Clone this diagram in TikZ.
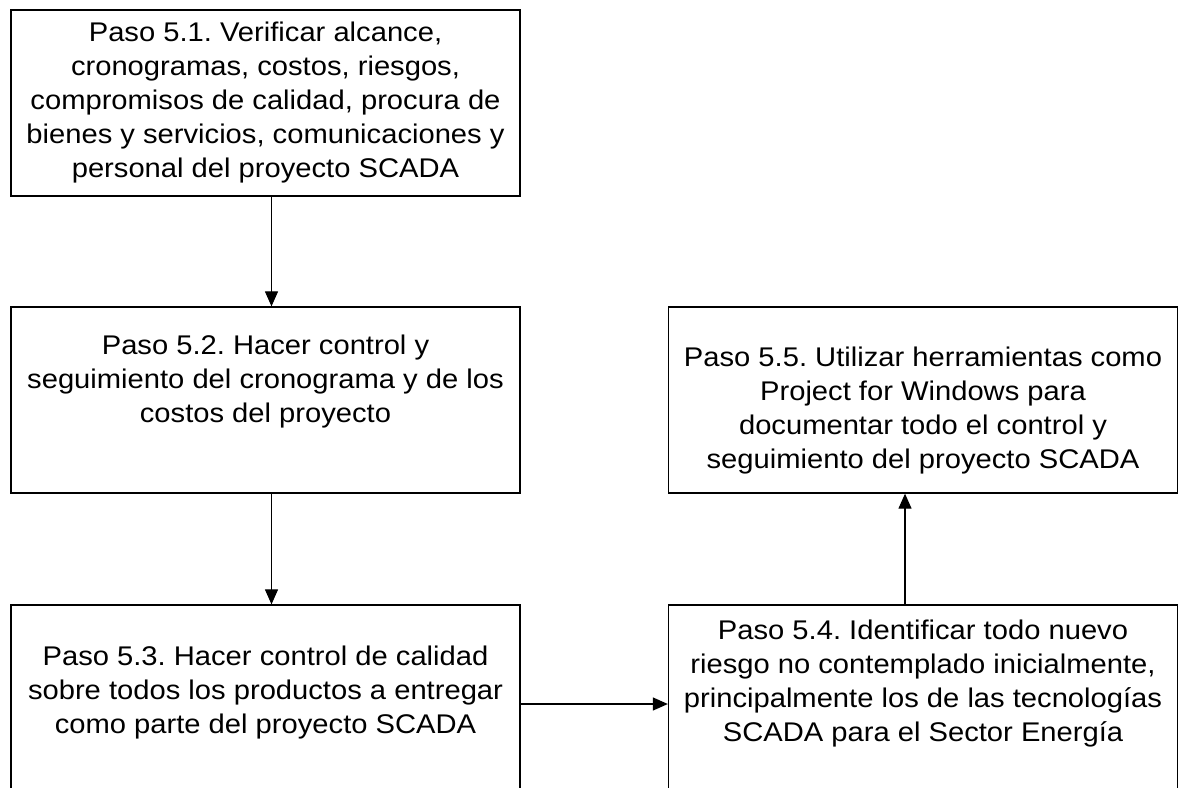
\documentclass[tikz,border=0pt]{standalone}
\usepackage{fontspec}
\setmainfont[FakeStretch=1.08]{Liberation Sans}
\usetikzlibrary{arrows.meta}
\frenchspacing
\begin{document}
\begin{tikzpicture}[x=1pt,y=-1pt]

        \clip (0,0) rectangle (1180,787);

        \begin{scope}[every node/.style={draw,line width=1.3pt,minimum width=509pt,minimum height=186pt,inner sep=0pt,align=center,font=\fontsize{27}{34}\selectfont}]
          \node (1) at (265.5,103)  {Paso 5.1. Verificar alcance,\\cronogramas, costos, riesgos,\\compromisos de calidad, procura de\\bienes y servicios, comunicaciones y\\personal del proyecto SCADA};
          \node (2) at (265.5,400)  {Paso 5.2. Hacer control y\\seguimiento del cronograma y de los\\costos del proyecto\\[8pt]};
          \node (3) at (265.5,698)  {Paso 5.3. Hacer control de calidad\\sobre todos los productos a entregar\\como parte del proyecto SCADA\\[-18pt]};
          \node (4) at (923,698)    {Paso 5.4. Identificar todo nuevo\\riesgo no contemplado inicialmente,\\principalmente los de las tecnologías\\SCADA para el Sector Energía\\[0pt]};
          \node (5) at (923,400)    {\\[6pt]Paso 5.5. Utilizar herramientas como\\Project for Windows para\\documentar todo el control y\\seguimiento del proyecto SCADA};
        \end{scope}

        \begin{scope}[every edge/.style={draw,line width=1.2pt,-{Triangle[length=15pt,width=13pt]}}]
          \path ([xshift=6pt]1.south)   edge ([xshift=6pt]2.north);
          \path ([xshift=6pt]2.south)   edge ([xshift=6pt]3.north);
          \path ([yshift=-6pt]3.east)   edge ([yshift=-6pt]4.west);
          \path ([xshift=-18pt]4.north) edge ([xshift=-18pt]5.south);
        \end{scope}

      \end{tikzpicture}
\end{document}
